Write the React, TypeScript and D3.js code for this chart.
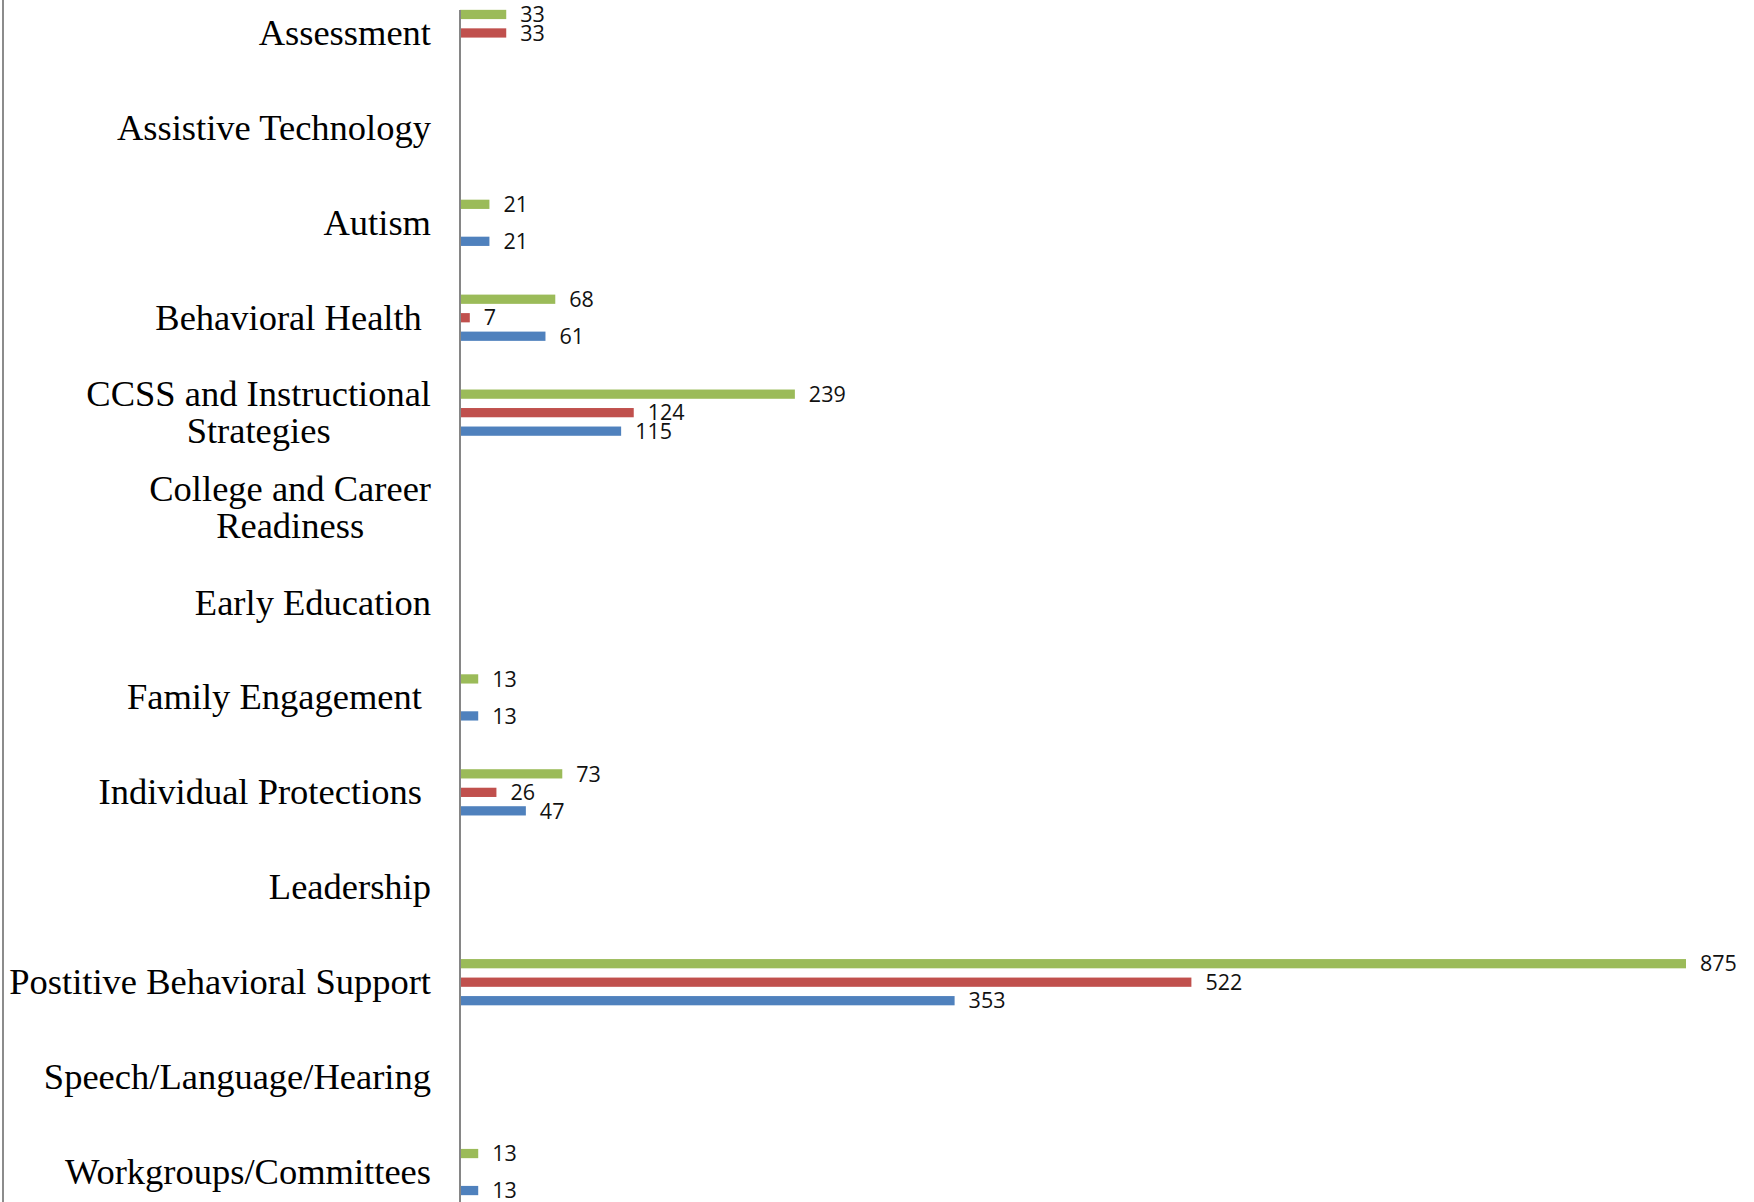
import React, { useEffect, useRef } from "react";
import * as d3 from "d3";

const categories: string[] = [
  "Assessment",
  "Assistive Technology",
  "Autism",
  "Behavioral Health ",
  "CCSS and Instructional\nStrategies",
  "College and Career\nReadiness",
  "Early Education",
  "Family Engagement ",
  "Individual Protections ",
  "Leadership",
  "Postitive Behavioral Support",
  "Speech/Language/Hearing",
  "Workgroups/Committees",
];

const seriesNames: string[] = ["Total", "Series 2", "Series 1"];
const seriesColors: string[] = ["#9BBB59", "#C0504D", "#4F81BD"];

const totalValues: (number | null)[] = [33, null, 21, 68, 239, null, null, 13, 73, null, 875, null, 13];
const series2Values: (number | null)[] = [33, null, null, 7, 124, null, null, null, 26, null, 522, null, null];
const series1Values: (number | null)[] = [null, null, 21, 61, 115, null, null, 13, 47, null, 353, null, 13];

const W = 1754;
const H = 1202;

export default function App() {
  const ref = useRef<SVGSVGElement | null>(null);

  useEffect(() => {
    const svg = d3.select(ref.current);
    svg.selectAll("*").remove();

    const allSeries = [totalValues, series2Values, series1Values];
    const maxV = d3.max(allSeries.flat().map((v) => v ?? 0)) as number;

    const axisX = 460;
    const x = d3.scaleLinear().domain([0, maxV]).range([axisX, 1686]);
    const y = d3
      .scaleBand<string>()
      .domain(categories)
      .range([-14.5, 1219.5])
      .paddingInner(0)
      .paddingOuter(0);
    const ys = d3
      .scaleBand<string>()
      .domain(seriesNames)
      .range([-27.75, 27.75])
      .paddingInner(0.5)
      .paddingOuter(0.25);

    svg.append("rect").attr("x", 0).attr("y", 0).attr("width", W).attr("height", H).attr("fill", "#fff");

    // left border
    svg
      .append("line")
      .attr("x1", 3)
      .attr("x2", 3)
      .attr("y1", 0)
      .attr("y2", H)
      .attr("stroke", "#8c8c8c")
      .attr("stroke-width", 2);

    // bars
    allSeries.forEach((vals, si) => {
      const g = svg.append("g");
      categories.forEach((c, ci) => {
        const v = vals[ci];
        if (v == null) return;
        const cy = (y(c) as number) + y.bandwidth() / 2;
        const by = cy + (ys(seriesNames[si]) as number);
        g.append("rect")
          .attr("x", x(0))
          .attr("y", by)
          .attr("width", x(v) - x(0))
          .attr("height", ys.bandwidth())
          .attr("fill", seriesColors[si]);
        g.append("text")
          .attr("x", x(v) + 14)
          .attr("y", by + ys.bandwidth() / 2)
          .attr("dy", "0.36em")
          .attr("font-family", "'Open Sans', sans-serif")
          .attr("font-size", 21.5)
          .attr("fill", "#111")
          .text(String(v));
      });
    });

    // axis line
    svg
      .append("line")
      .attr("x1", axisX)
      .attr("x2", axisX)
      .attr("y1", 10)
      .attr("y2", H)
      .attr("stroke", "#868686")
      .attr("stroke-width", 2);

    // category labels
    const labelRight = 431;
    const lineH = 37;
    categories.forEach((c) => {
      const cy = (y(c) as number) + y.bandwidth() / 2;
      const lines = c.split("\n");
      const g = svg
        .append("g")
        .attr("font-family", "'Liberation Serif', 'Times New Roman', serif")
        .attr("font-size", 36.5)
        .attr("fill", "#000");
      if (lines.length === 1) {
        g.append("text")
          .attr("xml:space", "preserve")
          .style("white-space", "pre")
          .attr("x", labelRight)
          .attr("y", cy)
          .attr("dy", "0.33em")
          .attr("text-anchor", "end")
          .text(c);
      } else {
        const texts = lines.map((l, i) =>
          g
            .append("text")
            .attr("y", cy + (i - (lines.length - 1) / 2) * lineH)
            .attr("dy", "0.33em")
            .attr("text-anchor", "middle")
            .text(l)
        );
        const widths = texts.map((t) => (t.node() as SVGTextElement).getComputedTextLength());
        const maxW = d3.max(widths) as number;
        texts.forEach((t) => t.attr("x", labelRight - maxW / 2));
      }
    });
  }, []);

  return (
    <svg
      ref={ref}
      width={W}
      height={H}
      style={{ position: "absolute", left: 0, top: 0, display: "block" }}
    />
  );
}
